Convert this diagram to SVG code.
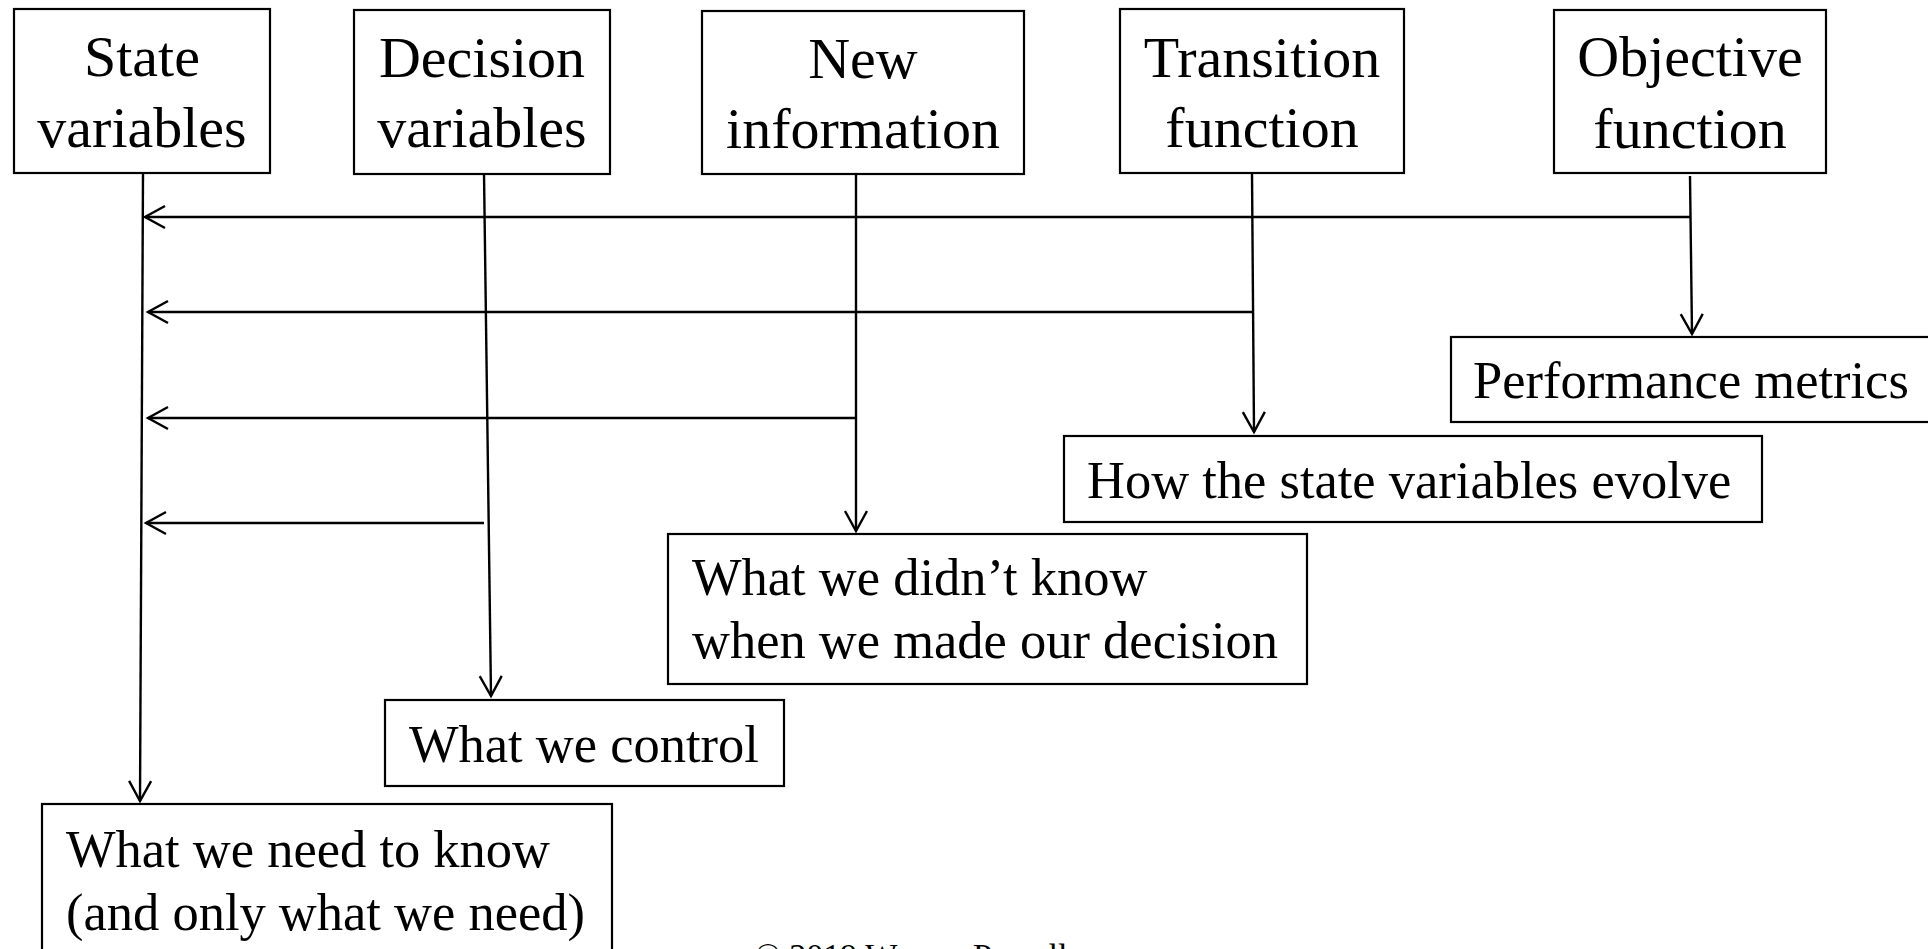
<svg xmlns="http://www.w3.org/2000/svg" width="1928" height="949" viewBox="0 0 1928 949">
<style>
.box{fill:#fff;stroke:#000;stroke-width:2.2}
.t{font-family:"Liberation Serif","Times New Roman",serif;fill:#000}
.big{font-size:58px;text-anchor:middle}
.sm{font-size:52.5px}
.c{fill:none;stroke:#000;stroke-width:2.4}
</style>
<defs>
<marker id="arr" markerUnits="userSpaceOnUse" markerWidth="40" markerHeight="40" viewBox="-30 -20 40 40" refX="0" refY="0" orient="auto" overflow="visible">
<path d="M-20,-11 L0,0 L-20,11" fill="none" stroke="#000" stroke-width="2.4"/>
</marker>
</defs>
<rect width="1928" height="949" fill="#fff"/>
<g id="connectors">
<path class="c" d="M143,173 L140,801" marker-end="url(#arr)"/>
<path class="c" d="M484,173 L491,696" marker-end="url(#arr)"/>
<path class="c" d="M856,174 L856,531" marker-end="url(#arr)"/>
<path class="c" d="M1252,173 L1254,432" marker-end="url(#arr)"/>
<path class="c" d="M1690,176 L1692,334" marker-end="url(#arr)"/>
<path class="c" d="M1690,217 L145,217" marker-end="url(#arr)"/>
<path class="c" d="M1254,312 L148,312" marker-end="url(#arr)"/>
<path class="c" d="M856,418 L148,418" marker-end="url(#arr)"/>
<path class="c" d="M484,523 L146,523" marker-end="url(#arr)"/>
</g>
<g id="state">
<rect class="box" x="14" y="9" width="256" height="164"/>
<text class="t big" x="142" y="76">State</text>
<text class="t big" x="142" y="147">variables</text>
</g>
<g id="decision">
<rect class="box" x="354" y="10" width="256" height="164"/>
<text class="t big" x="482" y="77">Decision</text>
<text class="t big" x="482" y="147">variables</text>
</g>
<g id="newinfo">
<rect class="box" x="702" y="11" width="322" height="163"/>
<text class="t big" x="863" y="78">New</text>
<text class="t big" x="863" y="148">information</text>
</g>
<g id="transition">
<rect class="box" x="1120" y="9" width="284" height="164"/>
<text class="t big" x="1262" y="77">Transition</text>
<text class="t big" x="1262" y="147">function</text>
</g>
<g id="objective">
<rect class="box" x="1554" y="10" width="272" height="163"/>
<text class="t big" x="1690" y="76">Objective</text>
<text class="t big" x="1690" y="148">function</text>
</g>
<g id="performance">
<rect class="box" x="1451" y="337" width="490" height="85"/>
<text class="t sm" x="1473" y="398">Performance metrics</text>
</g>
<g id="evolve">
<rect class="box" x="1064" y="436" width="698" height="86"/>
<text class="t sm" x="1087" y="498">How the state variables evolve</text>
</g>
<g id="didntknow">
<rect class="box" x="668" y="534" width="639" height="150"/>
<text class="t sm" x="692" y="595">What we didn’t know</text>
<text class="t sm" x="692" y="658">when we made our decision</text>
</g>
<g id="control">
<rect class="box" x="385" y="700" width="399" height="86"/>
<text class="t sm" x="409" y="762">What we control</text>
</g>
<g id="needtoknow">
<rect class="box" x="42" y="804" width="570" height="170"/>
<text class="t sm" x="66" y="867">What we need to know</text>
<text class="t sm" x="66" y="930">(and only what we need)</text>
</g>
<text class="t" x="755" y="967" font-size="34">© 2019 Warren Powell</text>
</svg>
